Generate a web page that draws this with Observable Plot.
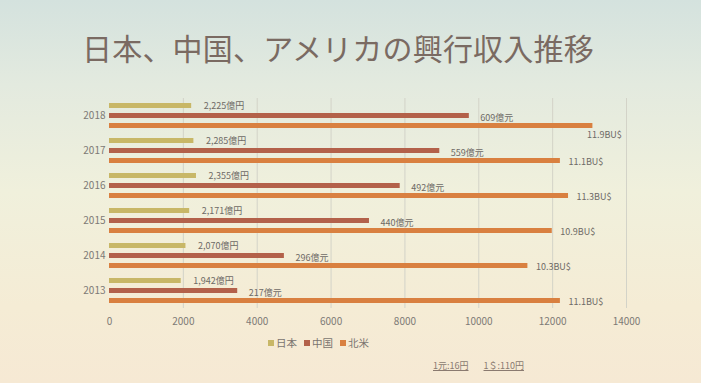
<!DOCTYPE html>
<html><head><meta charset="utf-8">
<script src="https://cdn.jsdelivr.net/npm/d3@7"></script>
<script src="https://cdn.jsdelivr.net/npm/@observablehq/plot@0.6"></script>
<style>
body{margin:0;width:701px;height:383px;overflow:hidden;position:relative;
 background:linear-gradient(180deg,#d4e2de 0%,#e3eadf 22%,#f0f0dc 50%,#f5ecd5 80%,#f6e9d4 100%);
 font-family:"Noto Sans CJK JP","Noto Sans",sans-serif;}
#title{position:absolute;left:82px;top:25px;font-size:30px;line-height:44px;color:#7a6a62;white-space:nowrap;letter-spacing:0.2px}
#chart{position:absolute;left:0;top:90px}
#legend{position:absolute;left:268px;top:335px;font-size:10.5px;color:#7a7470;white-space:nowrap}
#legend span.sw{display:inline-block;width:6px;height:6px;margin-right:2px;vertical-align:1px}
#legend span.it{margin-right:7px}
#note{position:absolute;left:433px;top:359px;font-size:9px;color:#8a7a70;white-space:nowrap}
#note span{text-decoration:underline;margin-right:15px}
</style></head>
<body>
<div id="title">日本、中国、アメリカの興行収入推移</div>
<div id="chart"></div>
<div id="legend"></div>
<div id="note"><span>1元:16円</span><span>1＄:110円</span></div>
<script>
const years = ["2013","2014","2015","2016","2017","2018"];
const series = ["日本","中国","北米"];
const colors = ["#c8b767","#b3614a","#d98040"];
const japanOkuYen = [1942,2070,2171,2355,2285,2225];
const chinaOkuYuan = [217,296,440,492,559,609];
const naBillionUSD = [11.1,10.3,10.9,11.3,11.1,11.9];
const yuanToYen = 16;
const usdToYen = 110;
const xTicks = [0,2000,4000,6000,8000,10000,12000,14000];

const rows = years.flatMap((yr,i)=>[
  {year:yr,s:"日本",v:japanOkuYen[i],label:d3.format(",")(japanOkuYen[i])+"億円"},
  {year:yr,s:"中国",v:chinaOkuYuan[i]*yuanToYen,label:chinaOkuYuan[i]+"億元"},
  {year:yr,s:"北米",v:naBillionUSD[i]*10*usdToYen,label:naBillionUSD[i].toFixed(1)+"BU$"}
]);
const txt = {fontSize:9,fill:"#6e6a66",textAnchor:"start"};
const chart = Plot.plot({
  width:701,height:246,marginLeft:109,marginRight:75,marginTop:6,marginBottom:26,
  style:{background:"transparent",fontFamily:"'Noto Sans CJK JP','Noto Sans',sans-serif",color:"#7d7a76",fontSize:"10px"},
  x:{domain:[0,14000],ticks:xTicks,tickFormat:d=>String(d),tickSize:0,tickPadding:9,label:null},
  fy:{domain:years.slice().reverse(),padding:0,tickSize:0,tickPadding:4,label:null,axis:"left"},
  y:{domain:series,paddingInner:0.5,paddingOuter:0.47,axis:null},
  color:{domain:series,range:colors},
  marks:[
    Plot.ruleX(xTicks.slice(1),{stroke:"#d3d3c8",strokeWidth:1}),
    Plot.barX(rows,{x:"v",y:"s",fy:"year",fill:"s"}),
    Plot.text(rows.filter(d=>d.s==="日本"),{x:"v",y:"s",fy:"year",text:"label",dx:12,...txt}),
    Plot.text(rows.filter(d=>d.s==="中国"),{x:"v",y:"s",fy:"year",text:"label",dx:11,dy:2,...txt}),
    Plot.text(rows.filter(d=>d.s==="北米"&&d.year!=="2018"),{x:"v",y:"s",fy:"year",text:"label",dx:8,dy:1,...txt}),
    Plot.text(rows.filter(d=>d.s==="北米"&&d.year==="2018"),{x:"v",y:"s",fy:"year",text:"label",dx:-6,dy:9,...txt})
  ]
});
document.getElementById("chart").appendChild(chart);
document.getElementById("legend").innerHTML = series.map((s,i)=>`<span class="it"><span class="sw" style="background:${colors[i]}"></span>${s}</span>`).join("");
</script>
</body></html>
